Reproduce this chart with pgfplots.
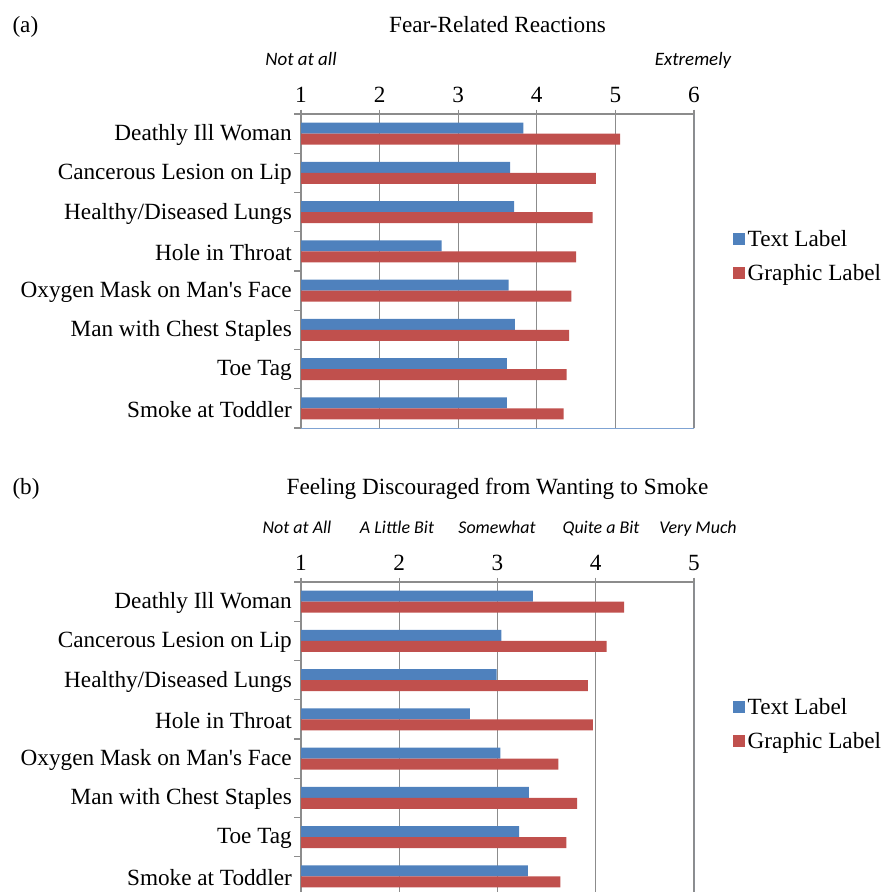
\documentclass[border=0pt]{standalone}
\usepackage{pgfplots}
\pgfplotsset{compat=1.18}
\usepackage{fontspec}
\setmainfont{Liberation Serif}
\newfontfamily\calib{Carlito}

\definecolor{exblue}{HTML}{4F81BD}
\definecolor{exred}{HTML}{C0504D}
\definecolor{exgrid}{HTML}{8C8C8C}
\definecolor{exframe}{HTML}{7FA3D3}

\newcommand{\chartfont}{\fontsize{23.3}{27}\selectfont}

\pgfplotsset{
  panel/.style={
    scale only axis, width=393bp, height=314bp,
    xbar, bar width=11bp,
    axis x line*=top, axis y line*=left,
    axis line style={exgrid, line width=1.2bp},
    xmajorgrids, grid style={exgrid, line width=1.2bp},
    ymin=-0.5, ymax=7.5,
    ytick={0,...,7},
    yticklabels={Smoke at Toddler, Toe Tag, Man with Chest Staples,
      Oxygen Mask on Man\textquotesingle s Face, Hole in Throat, Healthy/Diseased Lungs,
      Cancerous Lesion on Lip, Deathly Ill Woman},
    minor ytick={-0.5,0.5,...,7.5},
    major y tick style={draw=none},
    minor y tick style={exgrid, line width=1.2bp},
    minor tick length=7bp, major tick length=9bp,
    xtick align=center, ytick align=outside,
    x tick style={exgrid, line width=1.2bp},
    /pgf/number format/assume math mode=true,
    xticklabel style={font=\chartfont, inner sep=0pt, yshift=6.5bp},
    yticklabel style={font=\chartfont, inner sep=0pt, yshift=-1.5bp},
    legend style={anchor=west, draw=none, fill=none, font=\chartfont,
      row sep=12bp, inner sep=0pt, cells={anchor=west},
      nodes={inner xsep=3bp}},
    legend image code/.code={\path[##1] (0bp,-6bp) rectangle (12bp,6bp);},
  },
  textbar/.style={fill=exblue, draw=none, bar shift=5.5bp},
  graphbar/.style={fill=exred, draw=none, bar shift=-5.5bp},
}

\begin{document}
\begin{tikzpicture}
\useasboundingbox (0,0) rectangle (882bp,-892bp);

% ---- (a) fear-related reactions
\node[font=\chartfont, anchor=base west] at (9bp,-32bp) {(a)};
\node[font=\chartfont, anchor=base] at (497.5bp,-32bp) {Fear-Related Reactions};
\node[font=\calib\itshape\fontsize{19}{22}\selectfont, anchor=base] at (301bp,-65bp) {Not at all};
\node[font=\calib\itshape\fontsize{19}{22}\selectfont, anchor=base] at (693bp,-65bp) {Extremely};

\begin{axis}[panel, at={(301bp,-114bp)}, anchor=north west,
    xmin=1, xmax=6, xtick={1,...,6},
    legend style={at={(1.098,0.548)}}]
  \addplot[textbar] coordinates {
    (3.62,0) (3.62,1) (3.72,2) (3.64,3) (2.79,4) (3.71,5) (3.66,6) (3.83,7)};
  \addplot[graphbar] coordinates {
    (4.34,0) (4.38,1) (4.41,2) (4.44,3) (4.50,4) (4.71,5) (4.75,6) (5.06,7)};
  \legend{Text Label, Graphic Label}
  \draw[exframe, line width=1bp] (axis description cs:0,0) -- (axis description cs:1,0)
    -- (axis description cs:1,1);
\end{axis}

% ---- (b) feeling discouraged
\node[font=\chartfont, anchor=base west] at (9bp,-494bp) {(b)};
\node[font=\chartfont, anchor=base] at (497.5bp,-494bp) {Feeling Discouraged from Wanting to Smoke};
\begin{scope}[every node/.style={font=\calib\itshape\fontsize{18}{22}\selectfont, anchor=base}]
  \node at (297bp,-533bp) {Not at All};
  \node at (397bp,-533bp) {A Little Bit};
  \node at (497bp,-533bp) {Somewhat};
  \node at (601bp,-533bp) {Quite a Bit};
  \node at (698bp,-533bp) {Very Much};
\end{scope}

\begin{axis}[panel, at={(301bp,-582bp)}, anchor=north west,
    xmin=1, xmax=5, xtick={1,...,5},
    legend style={at={(1.098,0.548)}}]
  \addplot[textbar] coordinates {
    (3.31,0) (3.22,1) (3.32,2) (3.03,3) (2.72,4) (2.99,5) (3.04,6) (3.36,7)};
  \addplot[graphbar] coordinates {
    (3.64,0) (3.70,1) (3.81,2) (3.62,3) (3.97,4) (3.92,5) (4.11,6) (4.29,7)};
  \legend{Text Label, Graphic Label}
  \draw[exframe, line width=1bp] (axis description cs:0,0) -- (axis description cs:1,0)
    -- (axis description cs:1,1);
\end{axis}
\end{tikzpicture}
\end{document}
